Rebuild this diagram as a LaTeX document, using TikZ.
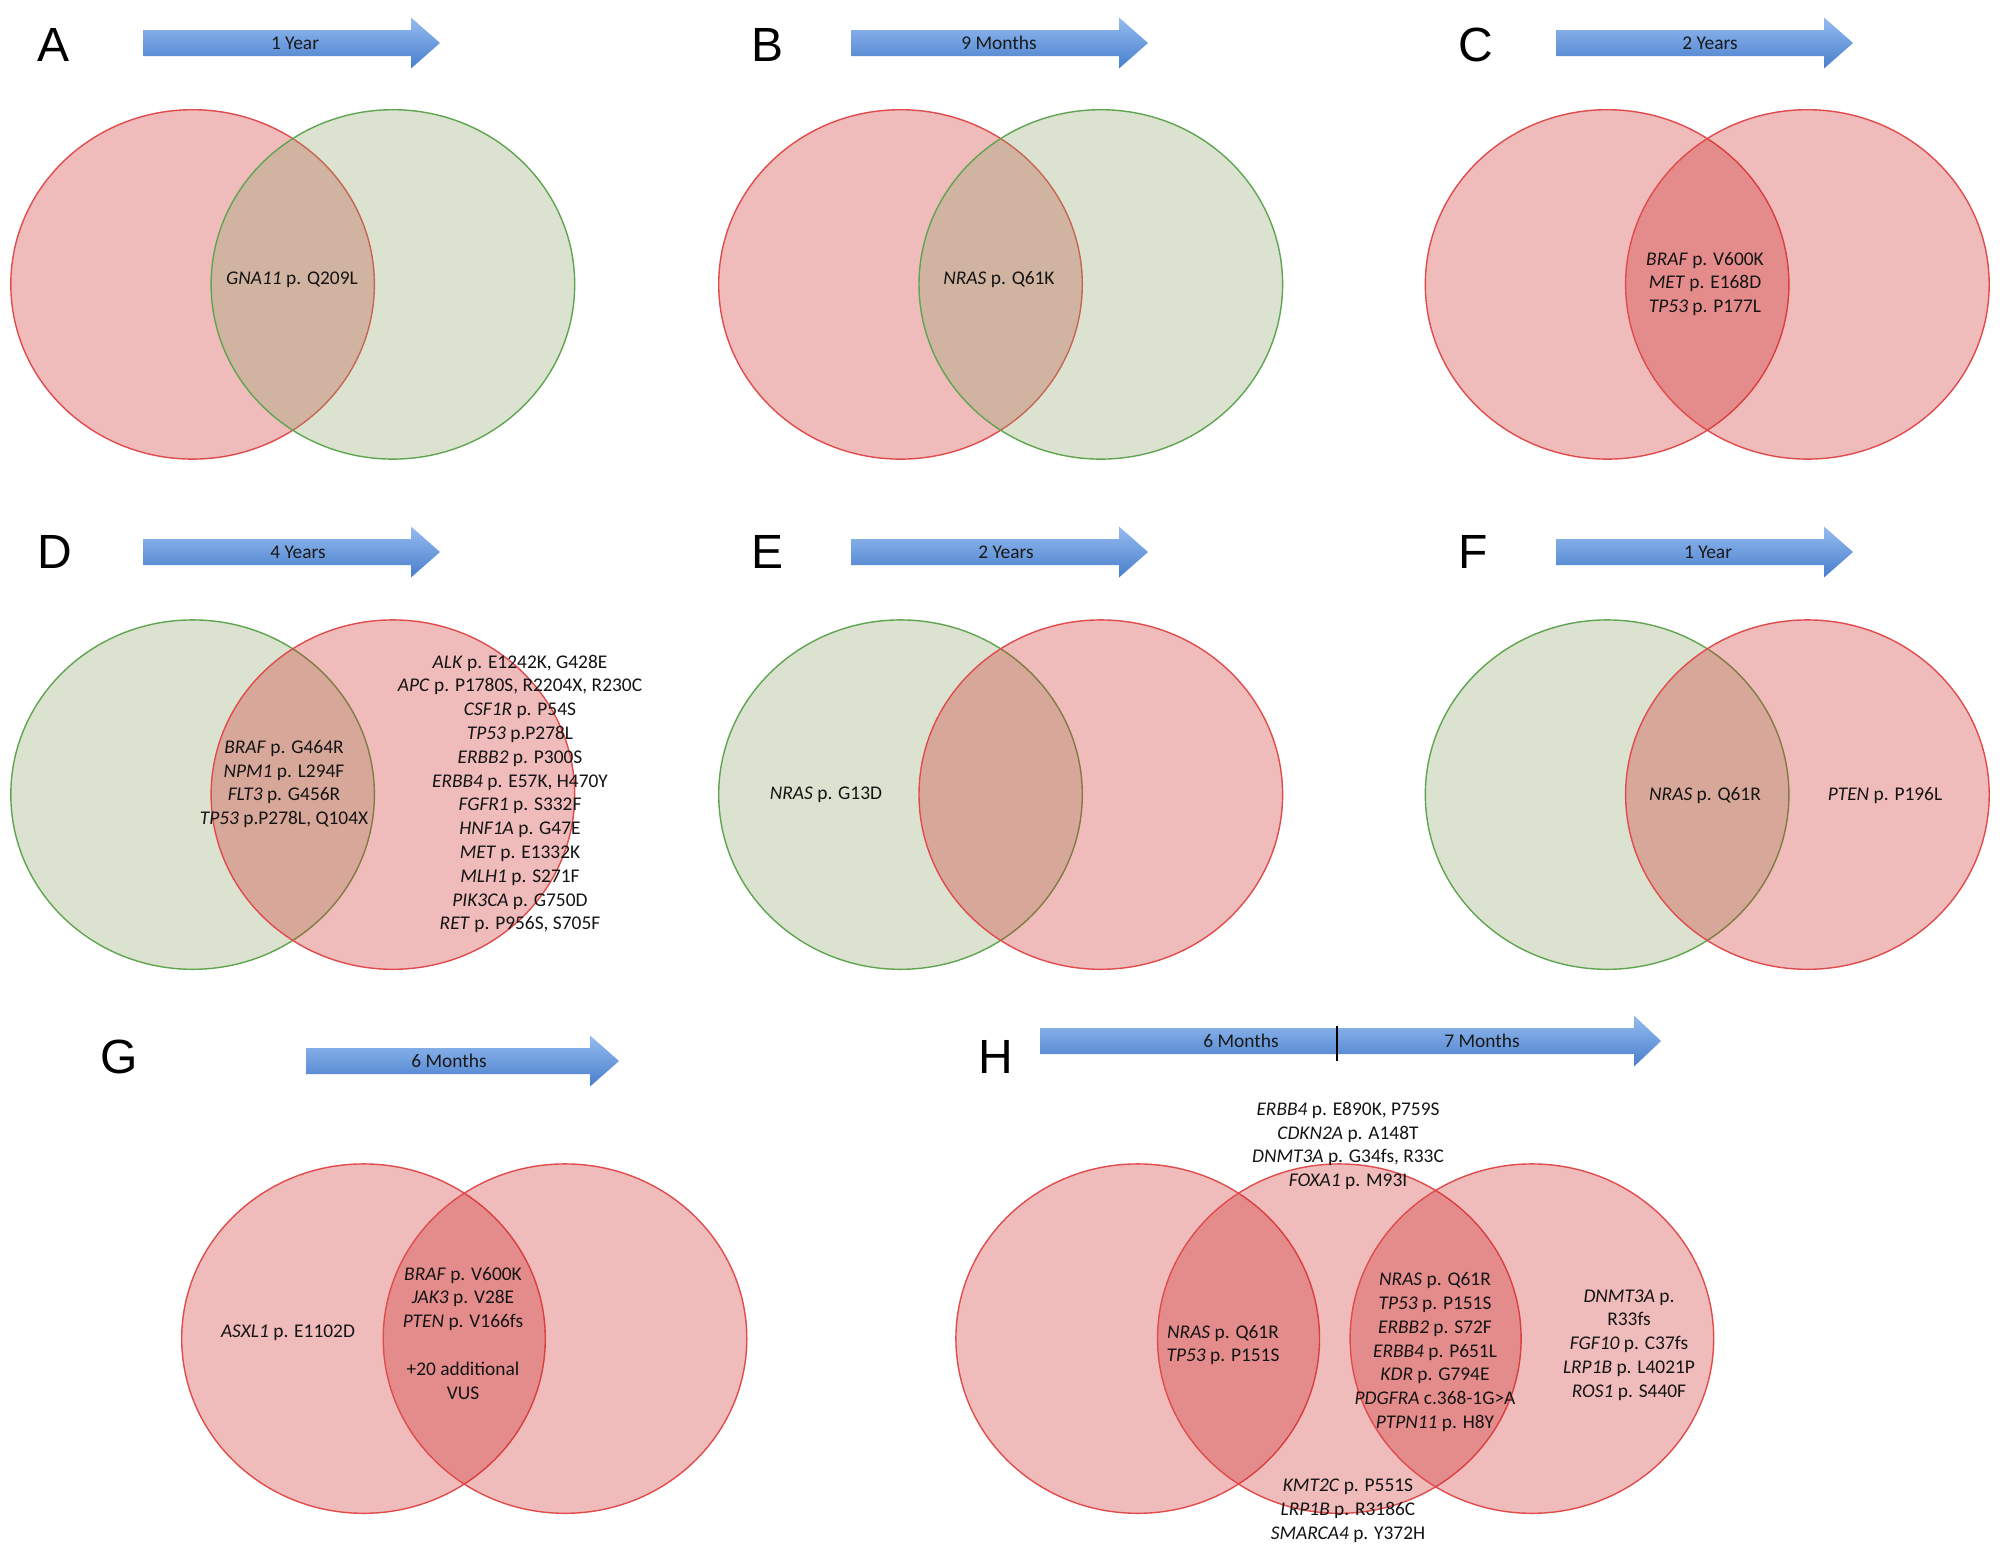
\documentclass[tikz,border=0pt]{standalone}
\usepackage{fontspec}
\setmainfont{Carlito}
\newfontfamily\panelfont{Liberation Sans}
\usepackage{tikz}

\definecolor{setred}{RGB}{205,32,32}
\definecolor{setgreen}{RGB}{142,162,102}
\definecolor{linered}{RGB}{225,75,75}
\definecolor{linegreen}{RGB}{95,165,80}
\definecolor{arrowtop}{RGB}{150,188,240}
\definecolor{arrowbot}{RGB}{72,126,204}

\begin{document}
\begin{tikzpicture}[x=0.5pt,y=-0.5pt,
  redset/.style={draw=linered,line width=0.7pt,fill=setred,fill opacity=0.3,x radius=90.9pt,y radius=87.35pt},
  greenset/.style={draw=linegreen,line width=0.7pt,fill=setgreen,fill opacity=0.3,x radius=90.9pt,y radius=87.35pt},
  timearrow/.style={top color=arrowtop,bottom color=arrowbot,draw=none},
  timetext/.style={inner sep=0pt,text=black!90,font=\fontsize{9.7}{11.7}\selectfont},
  mut/.style={inner sep=0pt,align=center,text=black!92,font=\fontsize{9.7}{11.9}\selectfont},
  panel/.style={inner sep=0pt,font=\panelfont\fontsize{24}{28}\selectfont}]
\path[use as bounding box,fill=white] (0,0) rectangle (2000,1548);
  \node[panel] (pA) at (54,45) {A};
  \node[panel] (pB) at (767,45) {B};
  \node[panel] (pC) at (1476,45) {C};
  \node[panel] (pD) at (55,552) {D};
  \node[panel] (pE) at (767,552) {E};
  \node[panel] (pF) at (1473,552) {F};
  \node[panel] (pG) at (119,1057) {G};
  \node[panel] (pH) at (996,1057) {H};
  \shade[timearrow] (143,30)--(411,30)--(411,17.5)--(440,43)--(411,68.5)--(411,56)--(143,56)--cycle;
  \shade[timearrow] (851,30)--(1119,30)--(1119,17.5)--(1148,43)--(1119,68.5)--(1119,56)--(851,56)--cycle;
  \shade[timearrow] (1556,30)--(1824,30)--(1824,17.5)--(1853,43)--(1824,68.5)--(1824,56)--(1556,56)--cycle;
  \shade[timearrow] (143,539)--(411,539)--(411,526.5)--(440,552)--(411,577.5)--(411,565)--(143,565)--cycle;
  \shade[timearrow] (851,539)--(1119,539)--(1119,526.5)--(1148,552)--(1119,577.5)--(1119,565)--(851,565)--cycle;
  \shade[timearrow] (1556,539)--(1824,539)--(1824,526.5)--(1853,552)--(1824,577.5)--(1824,565)--(1556,565)--cycle;
  \shade[timearrow] (306,1048)--(590,1048)--(590,1035.5)--(619,1061)--(590,1086.5)--(590,1074)--(306,1074)--cycle;
  \shade[timearrow] (1040,1028)--(1634,1028)--(1634,1015.5)--(1661,1041)--(1634,1066.5)--(1634,1054)--(1040,1054)--cycle;
  \draw[line width=1pt] (1337,1026)--(1337,1061);
  \node[timetext] (tA) at (295,43) {1 Year};
  \node[timetext] (tB) at (999,43) {9 Months};
  \node[timetext] (tC) at (1710,43) {2 Years};
  \node[timetext] (tD) at (298,552) {4 Years};
  \node[timetext] (tE) at (1006,552) {2 Years};
  \node[timetext] (tF) at (1708,552) {1 Year};
  \node[timetext] (tG) at (449,1061) {6 Months};
  \node[timetext] (tH1) at (1241,1041) {6 Months};
  \node[timetext] (tH2) at (1482,1041) {7 Months};
  \draw[redset] (192.6,284.4) ellipse;
  \draw[greenset] (392.9,284.4) ellipse;
  \draw[redset] (900.5,284.4) ellipse;
  \draw[greenset] (1100.8,284.4) ellipse;
  \draw[redset] (1607.1,284.4) ellipse;
  \draw[redset] (1807.4,284.4) ellipse;
  \draw[greenset] (192.6,794.6) ellipse;
  \draw[redset] (392.9,794.6) ellipse;
  \draw[greenset] (900.5,794.6) ellipse;
  \draw[redset] (1100.8,794.6) ellipse;
  \draw[greenset] (1607.1,794.6) ellipse;
  \draw[redset] (1807.4,794.6) ellipse;
  \draw[redset] (363.5,1338.6) ellipse;
  \draw[redset] (565,1338.6) ellipse;
  \draw[redset] (1137.7,1338.6) ellipse;
  \draw[redset] (1339.3,1338.6) ellipse;
  \draw[redset] (1531.9,1338.6) ellipse;
  \node[mut] (mA) at (292,280) {\textit{GNA11} p. Q209L};
  \node[mut] (mB) at (999,280) {\textit{NRAS} p. Q61K};
  \node[mut] (mC) at (1705,284) {\textit{BRAF} p. V600K\\\textit{MET} p. E168D\\\textit{TP53} p. P177L};
  \node[mut] (mD) at (284,784) {\textit{BRAF} p. G464R\\\textit{NPM1} p. L294F\\\textit{FLT3} p. G456R\\\textit{TP53} p.P278L, Q104X};
  \node[mut] (mDr) at (520,794) {\textit{ALK} p. E1242K, G428E\\\textit{APC} p. P1780S, R2204X, R230C\\\textit{CSF1R} p. P54S\\\textit{TP53} p.P278L\\\textit{ERBB2} p. P300S\\\textit{ERBB4} p. E57K, H470Y\\\textit{FGFR1} p. S332F\\\textit{HNF1A} p. G47E\\\textit{MET} p. E1332K\\\textit{MLH1} p. S271F\\\textit{PIK3CA} p. G750D\\\textit{RET} p. P956S, S705F};
  \node[mut] (mE) at (826,795) {\textit{NRAS} p. G13D};
  \node[mut] (mF) at (1705,795) {\textit{NRAS} p. Q61R};
  \node[mut] (mFr) at (1885,795) {\textit{PTEN} p. P196L};
  \node[mut] (mGl) at (288,1333) {\textit{ASXL1} p. E1102D};
  \node[mut] (mG) at (463,1333) {\textit{BRAF} p. V600K\\\textit{JAK3} p. V28E\\\textit{PTEN} p. V166fs\\[11.9pt]+20 additional\\VUS};
  \node[mut] (mHt) at (1348,1146) {\textit{ERBB4} p. E890K, P759S\\\textit{CDKN2A} p. A148T\\\textit{DNMT3A} p. G34fs, R33C\\\textit{FOXA1} p. M93I};
  \node[mut] (mHl) at (1223,1345) {\textit{NRAS} p. Q61R\\\textit{TP53} p. P151S};
  \node[mut] (mHm) at (1435,1352) {\textit{NRAS} p. Q61R\\\textit{TP53} p. P151S\\\textit{ERBB2} p. S72F\\\textit{ERBB4} p. P651L\\\textit{KDR} p. G794E\\\textit{PDGFRA} c.368-1G>A\\\textit{PTPN11} p. H8Y};
  \node[mut] (mHr) at (1629,1345) {\textit{DNMT3A} p.\\R33fs\\\textit{FGF10} p. C37fs\\\textit{LRP1B} p. L4021P\\\textit{ROS1} p. S440F};
  \node[mut] (mHb) at (1348,1511) {\textit{KMT2C} p. P551S\\\textit{LRP1B} p. R3186C\\\textit{SMARCA4} p. Y372H};
\end{tikzpicture}
\end{document}
